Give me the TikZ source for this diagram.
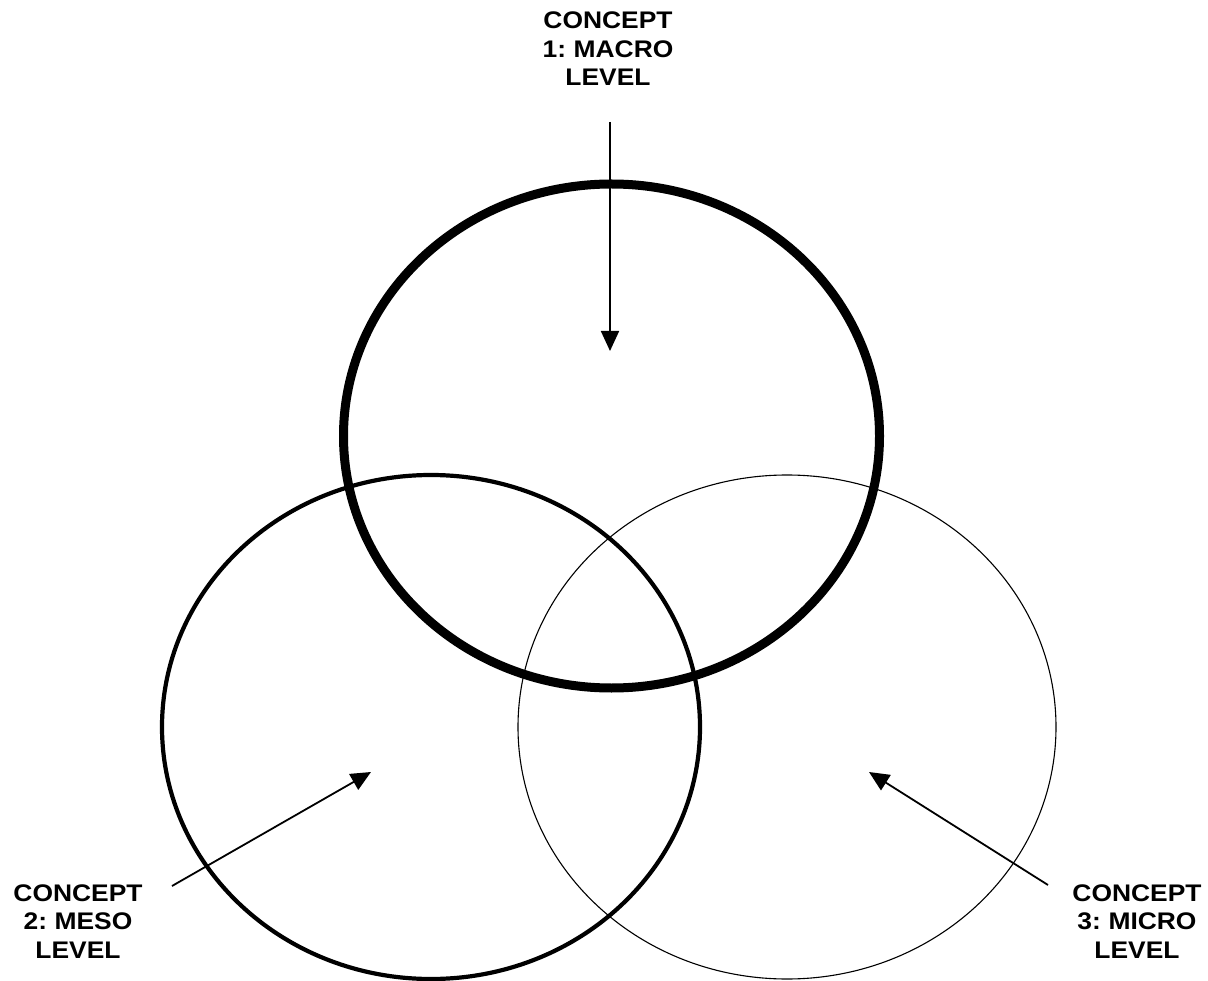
\documentclass[tikz,border=0pt]{standalone}
\usepackage{fontspec}
\setmainfont{Liberation Sans}
\newfontfamily\lblfont[FakeStretch=1.1,WordSpace=0.7]{Liberation Sans}
\usetikzlibrary{arrows.meta}
\begin{document}
\begin{tikzpicture}[x=1pt,y=-1pt,
  lbl/.style={inner sep=0pt, align=center, font=\lblfont\bfseries\fontsize{24}{28.5}\selectfont},
  ptr/.style={line width=1.8pt, -{Triangle[length=20pt,width=18pt]}},
  ring/.style={draw=black}]
\useasboundingbox (0,0) rectangle (1208,981);
\fill[white] (0,0) rectangle (1208,981);
\draw[ring, line width=9pt] (611.5,436) ellipse [x radius=268, y radius=252];
\draw[ring, line width=4.2pt] (431,727) ellipse [x radius=269, y radius=252];
\draw[ring, line width=1.1pt] (787,727) ellipse [x radius=269, y radius=252];
\node[lbl] (c1) at (608,49) {CONCEPT\\1: MACRO\\LEVEL};
\node[lbl] (c2) at (78,921.5) {CONCEPT\\2: MESO\\LEVEL};
\node[lbl] (c3) at (1137,921.5) {CONCEPT\\3: MICRO\\LEVEL};
\coordinate (s1) at (610,122);
\coordinate (t1) at (610,351);
\coordinate (s2) at (172,886);
\coordinate (t2) at (371,772);
\coordinate (s3) at (1048,885);
\coordinate (t3) at (869,772);
\draw[ptr] (s1) -- (t1);
\draw[ptr] (s2) -- (t2);
\draw[ptr] (s3) -- (t3);
\end{tikzpicture}
\end{document}
